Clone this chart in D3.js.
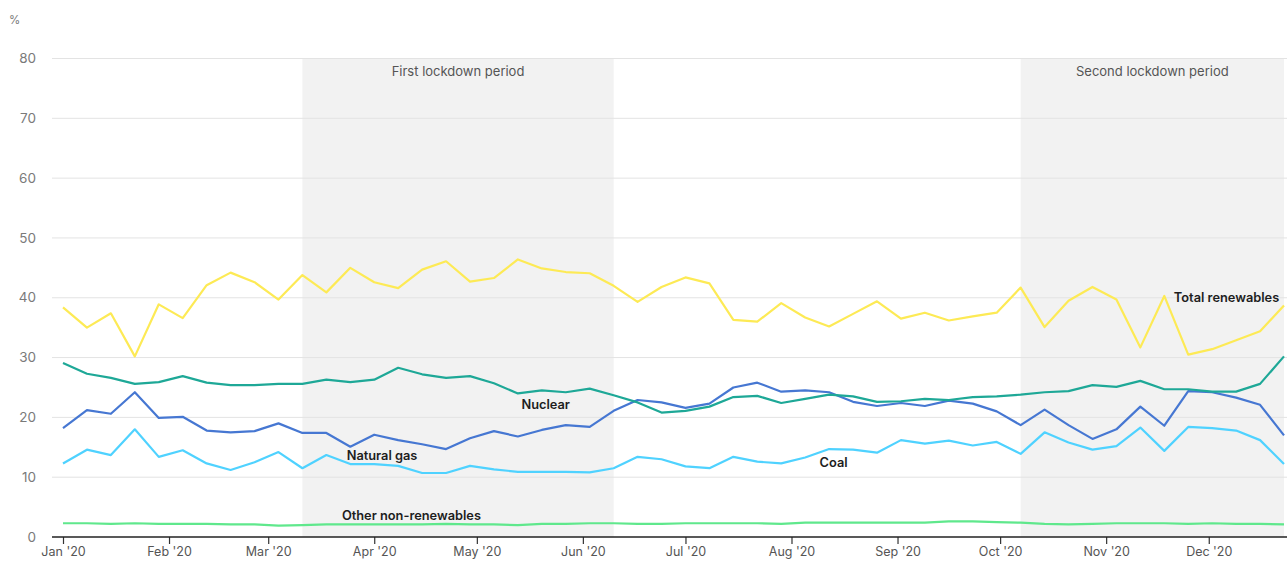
<!DOCTYPE html>
<html>
<head>
<meta charset="utf-8">
<script src="https://cdn.jsdelivr.net/npm/d3@7"></script>
<style>
  html, body { margin: 0; padding: 0; background: #fff; }
  svg { display: block; font-family: Inter, "Open Sans", sans-serif; }
</style>
</head>
<body>
<svg id="chart" width="1287" height="561"></svg>
<script>
// Weekly share of electricity generation by source, 2020 (%)
const weekCount = 52;
const startDate = new Date(2020, 0, 1);

const totalRenewables = [38.4, 35.0, 37.4, 30.2, 38.9, 36.6, 42.1, 44.2, 42.6, 39.7, 43.8, 40.9,
  45.0, 42.6, 41.6, 44.7, 46.1, 42.7, 43.3, 46.4, 44.9, 44.3, 44.1, 42.0, 39.3, 41.8, 43.4, 42.4,
  36.3, 36.0, 39.1, 36.7, 35.2, 37.3, 39.4, 36.5, 37.5, 36.2, 36.9, 37.5, 41.7, 35.1, 39.5, 41.8,
  39.7, 31.7, 40.3, 30.5, 31.4, 32.9, 34.4, 38.7];
const nuclear = [29.1, 27.3, 26.6, 25.6, 25.9, 26.9, 25.8, 25.4, 25.4, 25.6, 25.6, 26.3,
  25.9, 26.3, 28.3, 27.2, 26.6, 26.9, 25.7, 24.0, 24.5, 24.2, 24.8, 23.7, 22.5, 20.8, 21.1, 21.8,
  23.4, 23.6, 22.4, 23.1, 23.8, 23.5, 22.6, 22.7, 23.1, 22.9, 23.4, 23.5, 23.8, 24.2, 24.4, 25.4,
  25.1, 26.1, 24.7, 24.7, 24.3, 24.3, 25.6, 30.2];
const naturalGas = [18.2, 21.2, 20.6, 24.2, 19.9, 20.1, 17.8, 17.5, 17.7, 19.0, 17.4, 17.4,
  15.1, 17.1, 16.2, 15.5, 14.7, 16.5, 17.7, 16.8, 17.9, 18.7, 18.4, 21.1, 22.9, 22.5, 21.6, 22.3,
  25.0, 25.8, 24.3, 24.5, 24.2, 22.6, 21.9, 22.4, 21.9, 22.8, 22.3, 21.0, 18.7, 21.3, 18.7, 16.4,
  18.0, 21.8, 18.6, 24.4, 24.2, 23.3, 22.1, 17.0];
const coal = [12.3, 14.6, 13.7, 18.0, 13.4, 14.5, 12.3, 11.2, 12.5, 14.2, 11.5, 13.7,
  12.2, 12.2, 11.9, 10.7, 10.7, 11.9, 11.3, 10.9, 10.9, 10.9, 10.8, 11.5, 13.4, 13.0, 11.8, 11.5,
  13.4, 12.6, 12.3, 13.3, 14.7, 14.6, 14.1, 16.2, 15.6, 16.1, 15.3, 15.9, 13.9, 17.5, 15.8, 14.6,
  15.2, 18.3, 14.4, 18.4, 18.2, 17.8, 16.2, 12.2];
const otherNonRenewables = [2.3, 2.3, 2.2, 2.3, 2.2, 2.2, 2.2, 2.1, 2.1, 1.9, 2.0, 2.1,
  2.1, 2.1, 2.1, 2.1, 2.2, 2.1, 2.1, 2.0, 2.2, 2.2, 2.3, 2.3, 2.2, 2.2, 2.3, 2.3,
  2.3, 2.3, 2.2, 2.4, 2.4, 2.4, 2.4, 2.4, 2.4, 2.6, 2.6, 2.5, 2.4, 2.2, 2.1, 2.2,
  2.3, 2.3, 2.3, 2.2, 2.3, 2.2, 2.2, 2.1];

const seriesNames = ["Other non-renewables", "Coal", "Natural gas", "Nuclear", "Total renewables"];
const seriesColors = ["#5fe88c", "#4fd2ff", "#4677d2", "#1ea897", "#fdea55"];
const seriesValues = [otherNonRenewables, coal, naturalGas, nuclear, totalRenewables];

// Label anchors: [week index, value] where each series name sits
const labelAnchors = [[11.65, 3.6], [31.6, 12.4], [11.85, 13.6], [19.15, 22.1], [46.4, 40.0]];

const yTicks = [0, 10, 20, 30, 40, 50, 60, 70, 80];
const monthTicks = d3.range(0, 12).map(m => new Date(2020, m, 1));

// Lockdown periods as week indices [start, end]
const lockdowns = [
  { name: "First lockdown period", start: 10, end: 23 },
  { name: "Second lockdown period", start: 40, end: 51 }
];

const dates = d3.range(weekCount).map(i => d3.timeDay.offset(startDate, i * 7));

const svg = d3.select("#chart");
const gridLeft = 52, gridRight = 1287;

const x = d3.scaleTime()
  .domain([dates[0], dates[dates.length - 1]])
  .range([63, 1284]);
// position at a fractional week index
const xf = i => x(startDate) + (x(dates[1]) - x(dates[0])) * i;

const y = d3.scaleLinear().domain([0, 80]).range([537, 58.5]);

// Lockdown shading
svg.append("g").selectAll("rect").data(lockdowns).join("rect")
  .attr("x", d => x(dates[d.start]))
  .attr("width", d => x(dates[d.end]) - x(dates[d.start]))
  .attr("y", y(80))
  .attr("height", y(0) - y(80))
  .attr("fill", "#f2f2f2");

// Horizontal gridlines
svg.append("g").selectAll("line").data(yTicks.filter(t => t > 0)).join("line")
  .attr("x1", gridLeft).attr("x2", gridRight)
  .attr("y1", d => y(d)).attr("y2", d => y(d))
  .attr("stroke", "#e3e3e3").attr("stroke-width", 1);

// Y tick labels
svg.append("g").selectAll("text").data(yTicks).join("text")
  .attr("x", 36).attr("y", d => y(d))
  .attr("dy", "0.35em")
  .attr("text-anchor", "end")
  .attr("fill", "#7a7a7a")
  .attr("font-size", 13.5)
  .text(d => d);

svg.append("text")
  .attr("x", 9).attr("y", 24)
  .attr("fill", "#7a7a7a").attr("font-size", 11.5)
  .text("%");

// Lockdown captions
svg.append("g").selectAll("text").data(lockdowns).join("text")
  .attr("x", d => (x(dates[d.start]) + x(dates[d.end])) / 2)
  .attr("y", 76)
  .attr("text-anchor", "middle")
  .attr("fill", "#555")
  .attr("font-size", 13)
  .text(d => d.name);

// X axis
const xAxis = d3.axisBottom(x)
  .tickValues(monthTicks)
  .tickSize(7)
  .tickPadding(3)
  .tickFormat(d => d3.timeFormat("%b '%y")(d));
const gx = svg.append("g").attr("transform", `translate(0,${y(0)})`).call(xAxis);
gx.select(".domain").remove();
gx.append("line")
  .attr("x1", gridLeft).attr("x2", gridRight)
  .attr("stroke", "#222").attr("stroke-width", 1.5);
gx.selectAll(".tick line").attr("stroke", "#333").attr("stroke-width", 1.2);
gx.selectAll(".tick text")
  .attr("fill", "#555")
  .attr("font-size", 12.5)
  .attr("font-family", "Inter, 'Open Sans', sans-serif");

// Series lines
const line = d3.line()
  .x((d, i) => x(dates[i]))
  .y(d => y(d));

svg.append("g").selectAll("path").data(seriesValues).join("path")
  .attr("d", d => line(d))
  .attr("fill", "none")
  .attr("stroke", (d, i) => seriesColors[i])
  .attr("stroke-width", 2.2)
  .attr("stroke-linejoin", "round");

// Series labels
svg.append("g").selectAll("text").data(seriesNames).join("text")
  .attr("x", (d, i) => xf(labelAnchors[i][0]))
  .attr("y", (d, i) => y(labelAnchors[i][1]))
  .attr("dy", "0.35em")
  .attr("fill", "#1e1e1e")
  .attr("font-size", 12.8)
  .attr("font-weight", 600)
  .text(d => d);
</script>
</body>
</html>
